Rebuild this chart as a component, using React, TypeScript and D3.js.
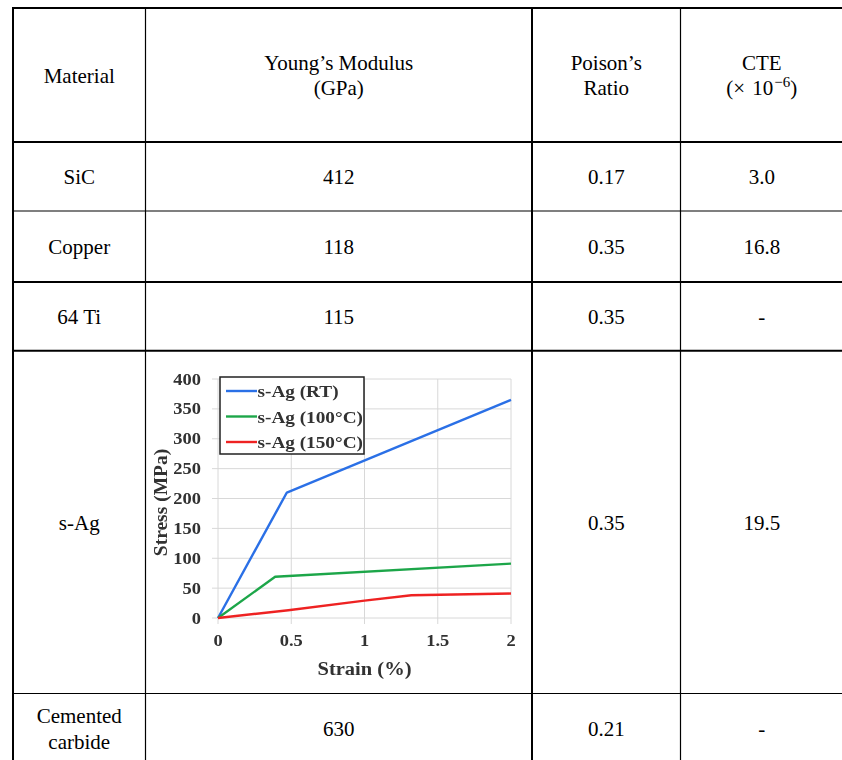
import React from "react";
import * as d3 from "d3";

// Table contents
const headerMaterial = ["Material"];
const headerYoung = ["Young’s Modulus", "(GPa)"];
const headerPoisson = ["Poison’s", "Ratio"];
const headerCte = ["CTE"];
const materials = [["SiC"], ["Copper"], ["64 Ti"], ["s-Ag"], ["Cemented", "carbide"]];
const youngsModulus = ["412", "118", "115", "", "630"];
const poissonRatio = ["0.17", "0.35", "0.35", "0.35", "0.21"];
const cteValues = ["3.0", "16.8", "-", "19.5", "-"];

// Stress–strain curves of sintered silver (strain %, stress MPa)
const strainTicks = [0, 0.5, 1, 1.5, 2];
const stressTicks = [0, 50, 100, 150, 200, 250, 300, 350, 400];
const seriesNames = ["s-Ag (RT)", "s-Ag (100°C)", "s-Ag (150°C)"];
const agRT: [number, number][] = [[0, 0], [0.47, 210], [2, 365]];
const ag100: [number, number][] = [[0, 0], [0.39, 69], [2, 91]];
const ag150: [number, number][] = [[0, 0], [0.48, 13], [1, 29], [1.32, 38], [2, 41]];
const seriesData = [agRT, ag100, ag150];
const seriesColors = ["#2b6fe6", "#1fa64a", "#ee2424"];

const W = 842;
const H = 760;
const serif = "'Liberation Serif', 'Times New Roman', serif";

// grid geometry
const colX = [13, 145.5, 532, 680.5, 843];
const rowY = [8, 142, 211, 282, 350.7, 693.5, 763];
const thickCols = [true, false, true, false, true];
const thickRows = [true, true, false, true, true, false, true];

function StressStrainChart() {
  const x = d3.scaleLinear().domain([0, 2]).range([218, 511]);
  const y = d3.scaleLinear().domain([0, 400]).range([618, 379]);
  const line = d3
    .line<[number, number]>()
    .x((d) => x(d[0]))
    .y((d) => y(d[1]));
  const txt = "#303030";
  return (
    <g filter="url(#soft)">
      {/* gridlines */}
      {stressTicks.map((t) => (
        <line key={"gy" + t} x1={212} x2={x(2)} y1={y(t)} y2={y(t)} stroke="#d8d8d8" strokeWidth={1} />
      ))}
      {strainTicks.map((t) => (
        <line key={"gx" + t} x1={x(t)} x2={x(t)} y1={y(400)} y2={y(0) + 6} stroke="#d8d8d8" strokeWidth={1} />
      ))}
      {/* tick labels */}
      {stressTicks.map((t) => (
        <text
          key={"ty" + t}
          transform={`translate(201,${y(t) + 5.5}) scale(1.12,1)`}
          textAnchor="end"
          fontFamily={serif}
          fontWeight="bold"
          fontSize={16.5}
          fill={txt}
        >
          {t}
        </text>
      ))}
      {strainTicks.map((t) => (
        <text
          key={"tx" + t}
          transform={`translate(${x(t)},${646}) scale(1.12,1)`}
          textAnchor="middle"
          fontFamily={serif}
          fontWeight="bold"
          fontSize={16.5}
          fill={txt}
        >
          {t}
        </text>
      ))}
      {/* axis titles */}
      <text
        transform={`translate(${(x(0) + x(2)) / 2},674.5) scale(1.08,1)`}
        textAnchor="middle"
        fontFamily={serif}
        fontWeight="bold"
        fontSize={19}
        fill={txt}
      >
        Strain (%)
      </text>
      <text
        transform={`translate(167,${(y(0) + y(400)) / 2 + 4}) rotate(-90)`}
        textAnchor="middle"
        fontFamily={serif}
        fontWeight="bold"
        fontSize={19.5}
        fill={txt}
      >
        Stress (MPa)
      </text>
      {/* series */}
      {seriesData.map((s, i) => (
        <path key={"s" + i} d={line(s) || ""} fill="none" stroke={seriesColors[i]} strokeWidth={2.4} strokeLinejoin="round" />
      ))}
      {/* legend */}
      <rect x={220} y={377} width={144} height={77} fill="#fff" stroke="#222" strokeWidth={1.5} />
      {seriesNames.map((n, i) => {
        const ly = 391 + i * 25.5;
        return (
          <g key={"l" + i}>
            <line x1={226} x2={257} y1={ly} y2={ly} stroke={seriesColors[i]} strokeWidth={2.4} />
            <text
              transform={`translate(257.5,${ly + 6}) scale(1.1,1)`}
              fontFamily={serif}
              fontWeight="bold"
              fontSize={17.5}
              fill={txt}
            >
              {n}
            </text>
          </g>
        );
      })}
    </g>
  );
}

function CellText({ lines, cx, cy, lh = 25.5 }: { lines: string[]; cx: number; cy: number; lh?: number }) {
  const n = lines.length;
  return (
    <>
      {lines.map((l, i) => (
        <text
          key={i}
          x={cx}
          y={cy + 7.5 + (i - (n - 1) / 2) * lh}
          textAnchor="middle"
          fontFamily={serif}
          fontSize={21}
          fill="#000"
        >
          {l}
        </text>
      ))}
    </>
  );
}

export default function App() {
  const cxs = colX.slice(0, 4).map((c, i) => (c + colX[i + 1]) / 2);
  const header = [headerMaterial, headerYoung, headerPoisson];
  const hcy = (rowY[0] + rowY[1]) / 2;
  return (
    <svg
      width={W}
      height={H}
      viewBox={`0 0 ${W} ${H}`}
      style={{ position: "absolute", left: 0, top: 0, display: "block", background: "#fff" }}
    >
      <defs>
        <filter id="soft" x="-5%" y="-5%" width="110%" height="110%">
          <feGaussianBlur stdDeviation={0.35} />
        </filter>
      </defs>
      <rect x={0} y={0} width={W} height={H} fill="#fff" />
      {/* header */}
      {header.map((h, i) => (
        <CellText key={"h" + i} lines={h} cx={cxs[i]} cy={hcy} />
      ))}
      <CellText lines={headerCte} cx={cxs[3]} cy={hcy - 12.75} />
      <text x={cxs[3]} y={hcy + 20} textAnchor="middle" fontFamily={serif} fontSize={21} fill="#000">
        (×
        <tspan dx={7}>10</tspan>
        <tspan fontSize={15} dx={1} dy={-8}>−6</tspan>
        <tspan dy={8}>)</tspan>
      </text>
      {/* body rows */}
      {materials.map((m, r) => {
        const cy = (rowY[r + 1] + rowY[r + 2]) / 2;
        return (
          <g key={"r" + r}>
            <CellText lines={m} cx={cxs[0]} cy={cy} lh={26.5} />
            {youngsModulus[r] !== "" && <CellText lines={[youngsModulus[r]]} cx={cxs[1]} cy={cy} />}
            <CellText lines={[poissonRatio[r]]} cx={cxs[2]} cy={cy} />
            <CellText lines={[cteValues[r]]} cx={cxs[3]} cy={cy} />
          </g>
        );
      })}
      <StressStrainChart />
      {/* grid lines */}
      {rowY.map((yy, i) => (
        <line key={"hr" + i} x1={colX[0] - 1} x2={W} y1={yy} y2={yy} stroke="#000" strokeWidth={thickRows[i] ? 2 : 1.2} />
      ))}
      {colX.map((xx, i) => (
        <line key={"vc" + i} x1={xx} x2={xx} y1={rowY[0] - 1} y2={H} stroke="#000" strokeWidth={thickCols[i] ? 2 : 1.2} />
      ))}
    </svg>
  );
}
